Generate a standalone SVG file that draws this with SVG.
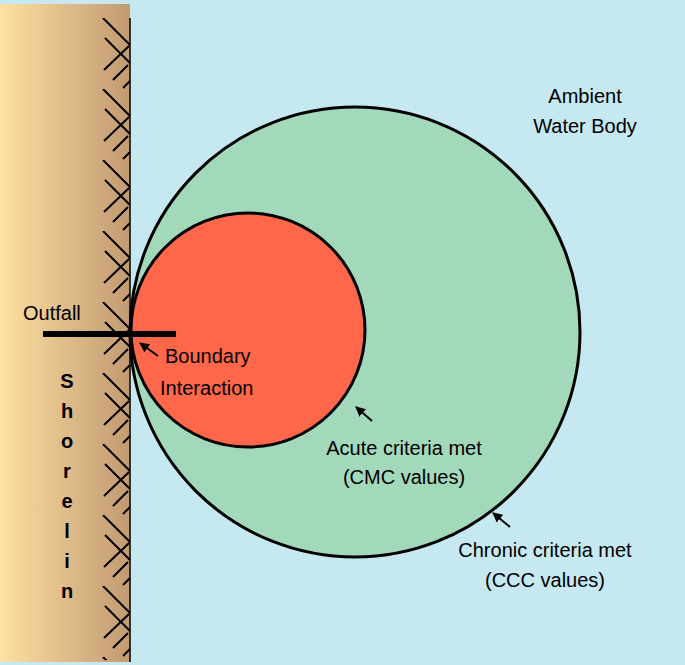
<svg xmlns="http://www.w3.org/2000/svg" width="685" height="665" viewBox="0 0 685 665">
<defs>
<linearGradient id="land" x1="0" x2="1" y1="0" y2="0"><stop offset="0" stop-color="#fde0a2"/><stop offset="1" stop-color="#c29a72"/></linearGradient>
<pattern id="hatch" patternUnits="userSpaceOnUse" x="0" y="18" width="140" height="71">
<g stroke="#000" stroke-width="2" fill="none">
<path d="M103,0 L130,27 M105,20 L130,45 M104,52 L129,28 M113,62 L128,47 M123,70 L130,63"/>
</g>
</pattern>
<marker id="ar" markerWidth="10" markerHeight="10" refX="9" refY="5" orient="auto" markerUnits="userSpaceOnUse"><path d="M0,0 L10,5 L0,10 Z" fill="#000"/></marker>
<style>
text{font-family:"Liberation Sans",Arial,sans-serif;font-size:20px;fill:#000}
.b{font-weight:bold}
</style>
</defs>
<rect x="0" y="0" width="685" height="665" fill="#c6e8f1"/>
<rect x="0" y="4" width="130" height="658" fill="url(#land)"/>
<rect x="100" y="18" width="32" height="642" fill="url(#hatch)"/>
<line x1="130" y1="18" x2="130" y2="662" stroke="#000" stroke-width="1.5"/>
<g id="chronic"><circle cx="355" cy="332" r="225" fill="#a3d9bb" stroke="#000" stroke-width="3"/></g>
<g id="acute"><circle cx="248" cy="330" r="117" fill="#fe674a" stroke="#000" stroke-width="3"/></g>
<g id="outfall"><line x1="43" y1="334" x2="176" y2="334" stroke="#000" stroke-width="6"/><text x="23" y="320">Outfall</text></g>
<g id="labels">
<text x="585" y="103" text-anchor="middle">Ambient</text>
<text x="585" y="133" text-anchor="middle">Water Body</text>
<text x="165" y="363">Boundary</text>
<text x="160" y="395">Interaction</text>
<text x="404" y="455" text-anchor="middle">Acute criteria met</text>
<text x="404" y="484" text-anchor="middle">(CMC values)</text>
<text x="545" y="557" text-anchor="middle">Chronic criteria met</text>
<text x="545" y="587" text-anchor="middle">(CCC values)</text>
<g class="b" text-anchor="middle">
<text class="b" x="67" y="388">S</text><text class="b" x="67" y="418">h</text><text class="b" x="67" y="448">o</text><text class="b" x="67" y="478">r</text><text class="b" x="67" y="508">e</text><text class="b" x="67" y="538">l</text><text class="b" x="67" y="568">i</text><text class="b" x="67" y="583" dy="0"></text><text class="b" x="67" y="598">n</text><text class="b" x="67" y="612" dy="0"></text>
</g>
</g>
<g id="connectors" stroke="#000" stroke-width="2">
<line x1="158" y1="356" x2="140" y2="343" marker-end="url(#ar)"/>
<line x1="372" y1="421" x2="356" y2="407" marker-end="url(#ar)"/>
<line x1="510" y1="527" x2="493" y2="513" marker-end="url(#ar)"/>
</g>
</svg>
